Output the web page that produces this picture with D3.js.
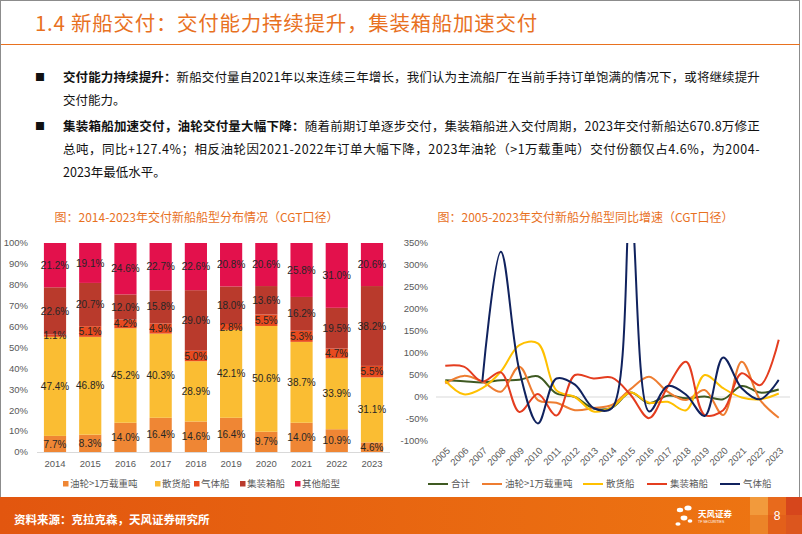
<!DOCTYPE html>
<html><head><meta charset="utf-8">
<script src="https://cdn.jsdelivr.net/npm/d3@7/dist/d3.min.js"></script>
<style>
html,body{margin:0;padding:0;background:#fff;}
svg{display:block;}
text{font-family:"Liberation Sans","Noto Sans CJK SC",sans-serif;}
.cjk{font-family:"Noto Sans CJK SC","Liberation Sans",sans-serif;}
</style></head><body>
<svg id="c" width="802" height="534"></svg>
<script>
// ---------- data ----------
const barYears = ["2014","2015","2016","2017","2018","2019","2020","2021","2022","2023"];
const barSeries = ["油轮>1万载重吨","散货船","气体船","集装箱船","其他船型"];
const shareTanker    = [7.7, 8.3, 14.0, 16.4, 14.6, 16.4, 9.7, 14.0, 10.9, 4.6];
const shareBulk      = [47.4, 46.8, 45.2, 40.3, 28.9, 42.1, 50.6, 38.7, 33.9, 31.1];
const shareGas       = [1.1, 5.1, 4.2, 4.9, 5.0, 2.8, 5.5, 5.3, 4.7, 5.5];
const shareContainer = [22.6, 20.7, 12.0, 15.8, 29.0, 18.0, 13.6, 16.2, 19.5, 38.2];
const shareOther     = [21.2, 19.1, 24.6, 22.7, 22.6, 20.8, 20.6, 25.8, 31.0, 20.6];
const barTicks = [0, 10, 20, 30, 40, 50, 60, 70, 80, 90, 100];

const lineYears = ["2005","2006","2007","2008","2009","2010","2011","2012","2013","2014","2015","2016","2017","2018","2019","2020","2021","2022","2023"];
const lineSeries = ["合计","油轮>1万载重吨","散货船","集装箱船","气体船"];
const growthTotal     = [38, 36, 33, 38, 39, 47, 8, 0, -26, -24, 10, -14, 3, -3, 1, -5, 25, 10, 17];
const growthTanker    = [31, 48, 35, 12, 69, -7, -13, -30, -25, -18, 18, 46, 12, -7, 16, -41, 80, -7, -47];
const growthBulk      = [37, 6, 20, 58, 118, 122, 15, 0, -33, -23, 10, -13, -11, -30, 50, 20, -1, -5, 8];
const growthContainer = [71, 69, 35, 56, -34, 7, -42, 50, 42, 44, 5, -48, 23, 80, -41, -30, 54, 27, 130];
const growthGas       = [null, null, 35, 330, 60, -60, 42, 28, -25, -25, 430, -33, 25, 5, -43, 90, 20, -5, 39];
const lineTicks = [-100, -50, 0, 50, 100, 150, 200, 250, 300, 350];

// ---------- styles ----------
const ORANGE = "#E8711F";
const barColors = ["#EF8634", "#FABD33", "#E84A1F", "#B93A2C", "#E3114C"];
const lineColors = ["#3F5A22", "#EE7D31", "#FFC000", "#E43D1F", "#10225E"];
const AX = "#595959";

const svg = d3.select("#c");
const defs = svg.append("defs");

function fit(sel, w) {
  const n = sel.text().length;
  const bw = sel.node().getComputedTextLength();
  if (n > 1) sel.attr("letter-spacing", ((w - bw) / n).toFixed(3));
}

// border
svg.append("rect").attr("x", 0.5).attr("y", 0.5).attr("width", 799).attr("height", 540)
  .attr("fill", "none").attr("stroke", "#8c8c8c");

// title
const title = svg.append("text").attr("class", "cjk").attr("x", 35).attr("y", 31)
  .attr("font-size", 20.5).attr("fill", ORANGE)
  .text("1.4 新船交付：交付能力持续提升，集装箱船加速交付");
fit(title, 503);
svg.append("line").attr("x1", 1).attr("x2", 800).attr("y1", 44.5).attr("y2", 44.5)
  .attr("stroke", ORANGE).attr("stroke-width", 1.2);

// body text
function bodyLine(y, boldPart, rest, w) {
  const t = svg.append("text").attr("class", "cjk").attr("x", 63).attr("y", y)
    .attr("font-size", 12.5).attr("fill", "#111");
  if (boldPart) t.append("tspan").attr("font-weight", "bold").text(boldPart);
  t.append("tspan").text(rest);
  if (w) fit(t, w);
  return t;
}
function bullet(y) {
  svg.append("text").attr("class", "cjk").attr("x", 35).attr("y", y).attr("font-size", 10)
    .attr("fill", "#111").text("■");
}
bullet(81);
bodyLine(82, "交付能力持续提升：", "新船交付量自2021年以来连续三年增长，我们认为主流船厂在当前手持订单饱满的情况下，或将继续提升", 697);
bodyLine(105, null, "交付能力。");
bullet(130);
bodyLine(131, "集装箱船加速交付，油轮交付量大幅下降：", "随着前期订单逐步交付，集装箱船进入交付周期，2023年交付新船达670.8万修正", 697);
bodyLine(154, null, "总吨，同比+127.4%；相反油轮因2021-2022年订单大幅下降，2023年油轮（>1万载重吨）交付份额仅占4.6%，为2004-", 697);
bodyLine(177, null, "2023年最低水平。");

// ---------- left chart: 100% stacked bars ----------
svg.append("text").attr("class", "cjk").attr("x", 196.5).attr("y", 222)
  .attr("text-anchor", "middle").attr("font-size", 12).attr("fill", ORANGE)
  .text("图：2014-2023年交付新船船型分布情况（CGT口径）");

const bx = d3.scaleBand().domain(barYears).range([37.4, 389.6]).paddingInner(0.37).paddingOuter(0.185);
const by = d3.scaleLinear().domain([0, 1]).range([452, 243]);
const barRows = barYears.map((y, i) => ({
  year: y, s0: shareTanker[i], s1: shareBulk[i], s2: shareGas[i], s3: shareContainer[i], s4: shareOther[i]
}));
const keys = ["s0", "s1", "s2", "s3", "s4"];
const stacked = d3.stack().keys(keys).offset(d3.stackOffsetExpand)(barRows);

const gL = svg.append("g");
stacked.forEach((layer, li) => {
  gL.append("g").selectAll("rect").data(layer).join("rect")
    .attr("x", d => bx(d.data.year)).attr("width", bx.bandwidth())
    .attr("y", d => by(d[1])).attr("height", d => by(d[0]) - by(d[1]))
    .attr("fill", barColors[li]);
});
stacked.forEach((layer, li) => {
  gL.append("g").selectAll("text").data(layer).join("text")
    .attr("x", d => bx(d.data.year) + bx.bandwidth() / 2)
    .attr("y", d => by((d[0] + d[1]) / 2)).attr("dy", "0.36em")
    .attr("text-anchor", "middle").attr("font-size", 10).attr("fill", "#262626")
    .text(d => d.data[keys[li]].toFixed(1) + "%");
});
gL.append("line").attr("x1", 37).attr("x2", 390).attr("y1", 452.5).attr("y2", 452.5).attr("stroke", "#d9d9d9");
gL.append("g").selectAll("text").data(barTicks).join("text")
  .attr("x", 28).attr("y", d => by(d / 100)).attr("dy", "0.35em").attr("text-anchor", "end")
  .attr("font-size", 9.5).attr("fill", AX).text(d => d + "%");
gL.append("g").selectAll("text").data(barYears).join("text")
  .attr("x", d => bx(d) + bx.bandwidth() / 2).attr("y", 464).attr("dy", "0.35em")
  .attr("text-anchor", "middle").attr("font-size", 9.5).attr("fill", AX).text(d => d);
const legLX = [63, 155, 194, 240, 295];
barSeries.forEach((s, i) => {
  gL.append("rect").attr("x", legLX[i]).attr("y", 481).attr("width", 5.5).attr("height", 5.5).attr("fill", barColors[i]);
  gL.append("text").attr("class", "cjk").attr("x", legLX[i] + 7).attr("y", 484).attr("dy", "0.35em")
    .attr("font-size", 9.5).attr("fill", AX).text(s);
});

// ---------- right chart: smoothed lines ----------
svg.append("text").attr("class", "cjk").attr("x", 585.5).attr("y", 222)
  .attr("text-anchor", "middle").attr("font-size", 12).attr("fill", ORANGE)
  .text("图：2005-2023年交付新船分船型同比增速（CGT口径）");

const lx = d3.scalePoint().domain(lineYears).range([436, 788]).padding(0.5);
const ly = d3.scaleLinear().domain([-100, 350]).range([441, 243]);
const gR = svg.append("g");
defs.append("clipPath").attr("id", "clipR").append("rect")
  .attr("x", 430).attr("y", 243).attr("width", 365).attr("height", 210);

gR.append("g").selectAll("text").data(lineTicks).join("text")
  .attr("x", 428).attr("y", d => ly(d)).attr("dy", "0.35em").attr("text-anchor", "end")
  .attr("font-size", 9.5).attr("fill", AX).text(d => d + "%");
gR.append("line").attr("x1", 436).attr("x2", 790).attr("y1", ly(0)).attr("y2", ly(0)).attr("stroke", "#d9d9d9");
gR.append("g").selectAll("text").data(lineYears).join("text")
  .attr("transform", d => `translate(${lx(d) + 3},${449}) rotate(-45)`)
  .attr("dy", "0.35em").attr("text-anchor", "end")
  .attr("font-size", 9.5).attr("fill", AX).text(d => d);

const allGrowth = [growthTotal, growthTanker, growthBulk, growthContainer, growthGas];
const lineGen = d3.line()
  .x(d => lx(d.year)).y(d => ly(d.v))
  .curve(d3.curveCatmullRom.alpha(0.5));
const lines = gR.append("g").attr("clip-path", "url(#clipR)");
allGrowth.forEach((arr, si) => {
  const pts = lineYears.map((y, i) => ({ year: y, v: arr[i] })).filter(d => d.v !== null);
  lines.append("path").attr("d", lineGen(pts)).attr("fill", "none")
    .attr("stroke", lineColors[si]).attr("stroke-width", 2).attr("stroke-linejoin", "round");
});
const legRX = [428, 482, 583, 647, 720];
lineSeries.forEach((s, i) => {
  gR.append("line").attr("x1", legRX[i]).attr("x2", legRX[i] + 20).attr("y1", 484).attr("y2", 484)
    .attr("stroke", lineColors[i]).attr("stroke-width", 2);
  gR.append("text").attr("class", "cjk").attr("x", legRX[i] + 23).attr("y", 484).attr("dy", "0.35em")
    .attr("font-size", 9.5).attr("fill", AX).text(s);
});

// ---------- footer ----------
const grad = defs.append("linearGradient").attr("id", "fg").attr("x1", 0).attr("x2", 1).attr("y1", 0).attr("y2", 0);
grad.append("stop").attr("offset", "0%").attr("stop-color", "#E2560F");
grad.append("stop").attr("offset", "100%").attr("stop-color", "#EE7612");
svg.append("rect").attr("x", 0).attr("y", 497).attr("width", 802).attr("height", 37).attr("fill", "url(#fg)");
const sq = [[750,497,18,18,"#F29A3C"],[750,515,18,19,"#EC8428"],[768,497,18,18,"#E86A1C"],[768,515,18,19,"#E3601A"],[786,497,16,18,"#D6461C"],[786,515,16,19,"#DC561E"]];
sq.forEach(s => svg.append("rect").attr("x", s[0]).attr("y", s[1]).attr("width", s[2]).attr("height", s[3]).attr("fill", s[4]));
svg.append("text").attr("class", "cjk").attr("x", 14).attr("y", 520).attr("dy", "0.35em")
  .attr("font-size", 11.5).attr("font-weight", "bold").attr("fill", "#fff").text("资料来源：克拉克森，天风证券研究所");
svg.append("text").attr("x", 777).attr("y", 516).attr("dy", "0.35em").attr("text-anchor", "middle")
  .attr("font-size", 12).attr("fill", "#fff").text("8");
const lg = svg.append("g").attr("fill", "#fff");
[[680,510,3.2],[688,508,3.6],[684,518,3.4],[678,524,2.6],[690,521,2.4]].forEach(c =>
  lg.append("ellipse").attr("cx", c[0]).attr("cy", c[1]).attr("rx", c[2]).attr("ry", c[2] * 0.7));
lg.append("text").attr("class", "cjk").attr("x", 698).attr("y", 514).attr("dy", "0.35em")
  .attr("font-size", 8.5).attr("font-weight", "bold").text("天风证券");
lg.append("text").attr("x", 698).attr("y", 522).attr("dy", "0.35em")
  .attr("font-size", 3.5).text("TF SECURITIES");
</script>
</body></html>
